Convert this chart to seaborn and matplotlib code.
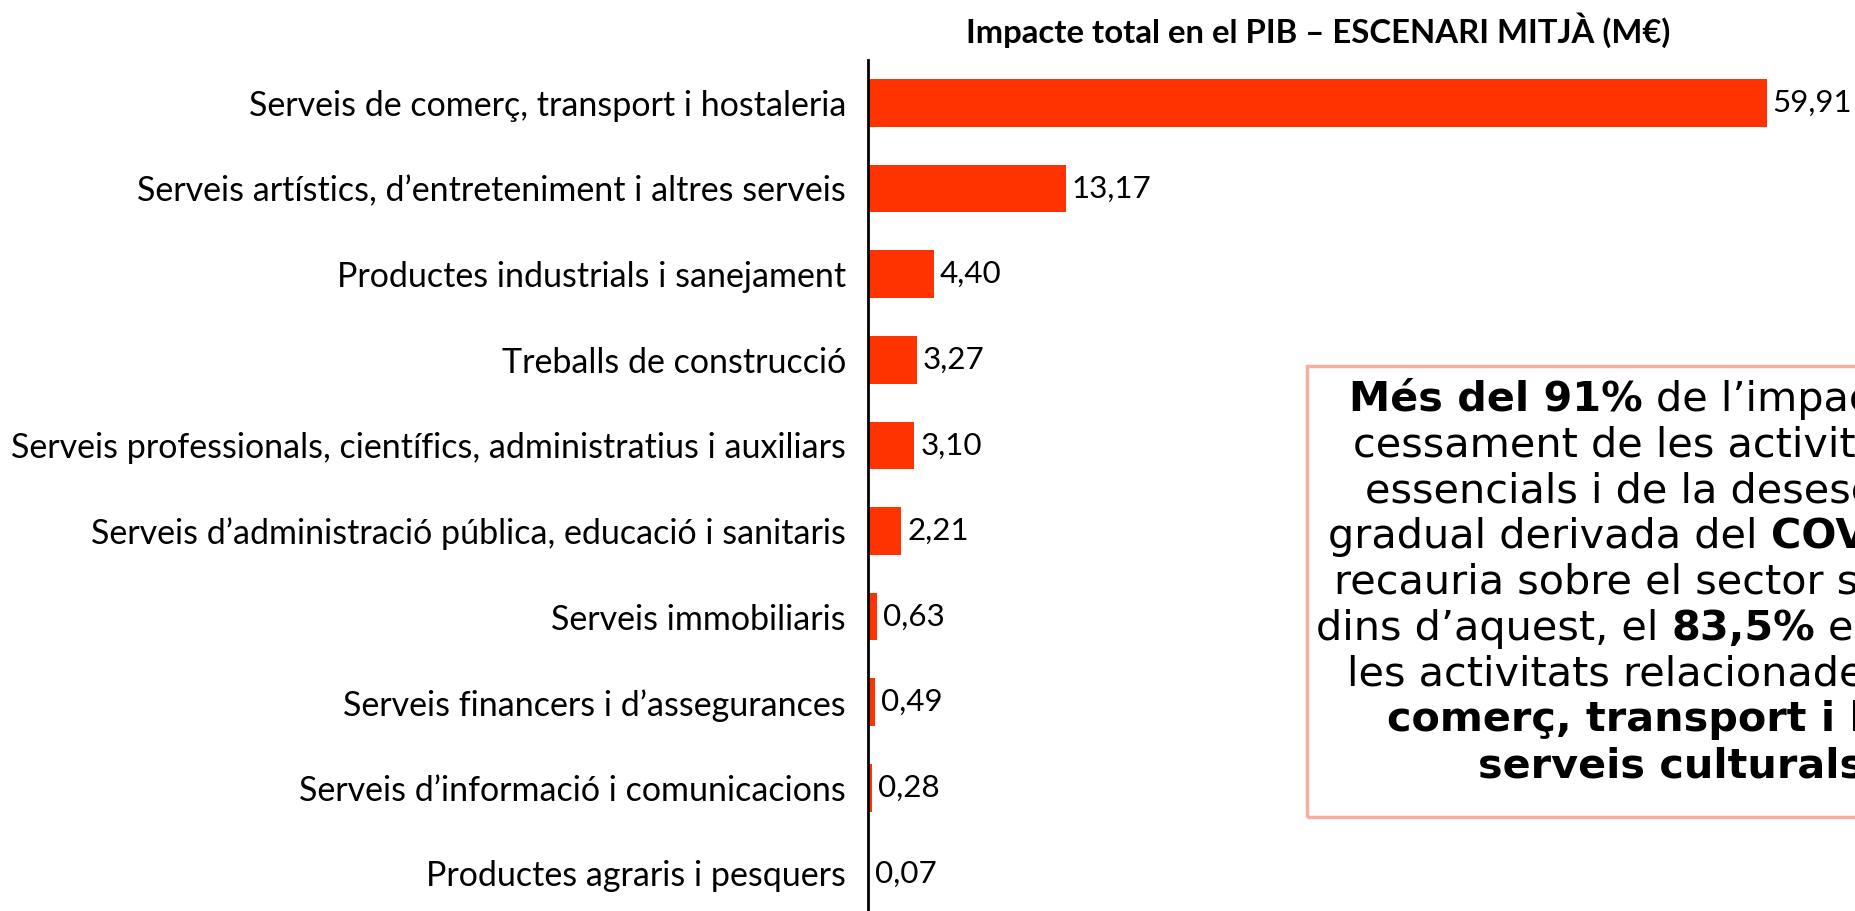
import matplotlib
matplotlib.use("Agg")
import matplotlib.pyplot as plt
from matplotlib.patches import Rectangle
import numpy as np
import pandas as pd
import seaborn as sns

# ---------------- data ----------------
categories = [
    "Serveis de comerç, transport i hostaleria",
    "Serveis artístics, d’entreteniment i altres serveis",
    "Productes industrials i sanejament",
    "Treballs de construcció",
    "Serveis professionals, científics, administratius i auxiliars",
    "Serveis d’administració pública, educació i sanitaris",
    "Serveis immobiliaris",
    "Serveis financers i d’assegurances",
    "Serveis d’informació i comunicacions",
    "Productes agraris i pesquers",
]
values = [59.91, 13.17, 4.40, 3.27, 3.10, 2.21, 0.63, 0.49, 0.28, 0.07]
value_labels = ["59,91", "13,17", "4,40", "3,27", "3,10", "2,21", "0,63", "0,49", "0,28", "0,07"]
title = "Impacte total en el PIB – ESCENARI MITJÀ (M€)"
note_lines = [
    [("Més del 91%", True), ("de l’impacte del", False)],
    [("cessament de les activitats no", False)],
    [("essencials i de la desescalada", False)],
    [("gradual derivada del", False), ("COVID-19", True)],
    [("recauria sobre el sector serveis i,", False)],
    [("dins d’aquest, el", False), ("83,5%", True), ("es deu a", False)],
    [("les activitats relacionades amb el", False)],
    [("comerç, transport i hostaleria i", True)],
    [("serveis culturals", True)],
]

# ---------------- layout ----------------
W, H, DPI = 1856, 911, 100
FONT = ["Lato", "DejaVu Sans"]
NOTE_FONT = ["DejaVu Sans"]
BAR_COLOR = "#FF3300"
BOX_COLOR = "#F7AE9E"

sns.set_theme(style="white")
plt.rcParams["font.family"] = FONT

fig = plt.figure(figsize=(W / DPI, H / DPI), dpi=DPI)
fig.patch.set_facecolor("white")
renderer = fig.canvas.get_renderer()


def px_width(s, size, weight="normal", family=FONT):
    t = fig.text(0, 0, s, fontsize=size, fontweight=weight, family=family)
    w = t.get_window_extent(renderer).width
    t.remove()
    return w


def fit(s, target, weight="normal", family=FONT, base=20.0):
    return base * target / px_width(s, base, weight, family)


axis_x = 868
axis_top = 60
px_per_unit = 15.0
row_px = 85.6
first_center = 103

ax = fig.add_axes([axis_x / W, 0, (W - axis_x) / W, (H - axis_top) / H])
df = pd.DataFrame({"categoria": categories, "valor": values})
sns.barplot(data=df, y="categoria", x="valor", orient="h", color=BAR_COLOR,
            saturation=1, width=0.554, linewidth=0, ax=ax)

ax.set_xlim(0, (W - axis_x) / px_per_unit)
top = -(first_center - axis_top) / row_px
ax.set_ylim(top + (H - axis_top) / row_px, top)
ax.set_xticks([])
ax.set_xlabel("")
ax.set_ylabel("")
for s in ["top", "right", "bottom"]:
    ax.spines[s].set_visible(False)
ax.spines["left"].set_color("black")
ax.spines["left"].set_linewidth(2)
ax.set_facecolor("none")

cat_size = fit(categories[4], 834) * 1.005
ax.tick_params(axis="y", length=0, pad=22 * 72 / DPI, labelsize=cat_size, labelcolor="black")

ax.bar_label(ax.containers[0], labels=value_labels, padding=6 * 72 / DPI,
             fontsize=cat_size * 0.92, color="black")

# title
t_size = fit(title, 706, weight="bold")
fig.text(1318 / W, 1 - 43 / H, title, ha="center", va="baseline",
         fontsize=t_size, fontweight="bold", color="black")

# note box
box_left, box_top, box_bottom = 1307, 366, 817
fig.add_artist(Rectangle((box_left / W, 1 - box_bottom / H), (2200 - box_left) / W,
                         (box_bottom - box_top) / H, transform=fig.transFigure,
                         facecolor="none", edgecolor=BOX_COLOR, linewidth=2.5))

note_size = fit("cessament de les activ", 475, family=NOTE_FONT)
line_starts = [1349, 1353, 1365, 1328, 1334, 1316, 1347, 1387, 1478]
first_baseline = 411
line_gap = 45.75
space_px = px_width("x x", note_size, family=NOTE_FONT) - px_width("xx", note_size, family=NOTE_FONT)

for i, segs in enumerate(note_lines):
    x = line_starts[i]
    yb = first_baseline + i * line_gap
    for seg, bold in segs:
        t = fig.text(x / W, 1 - yb / H, seg, ha="left", va="baseline",
                     fontsize=note_size, fontweight="bold" if bold else "normal",
                     family=NOTE_FONT, color="black")
        x = t.get_window_extent(renderer).x1 + space_px

fig.savefig("out.png", dpi=DPI, facecolor="white")
